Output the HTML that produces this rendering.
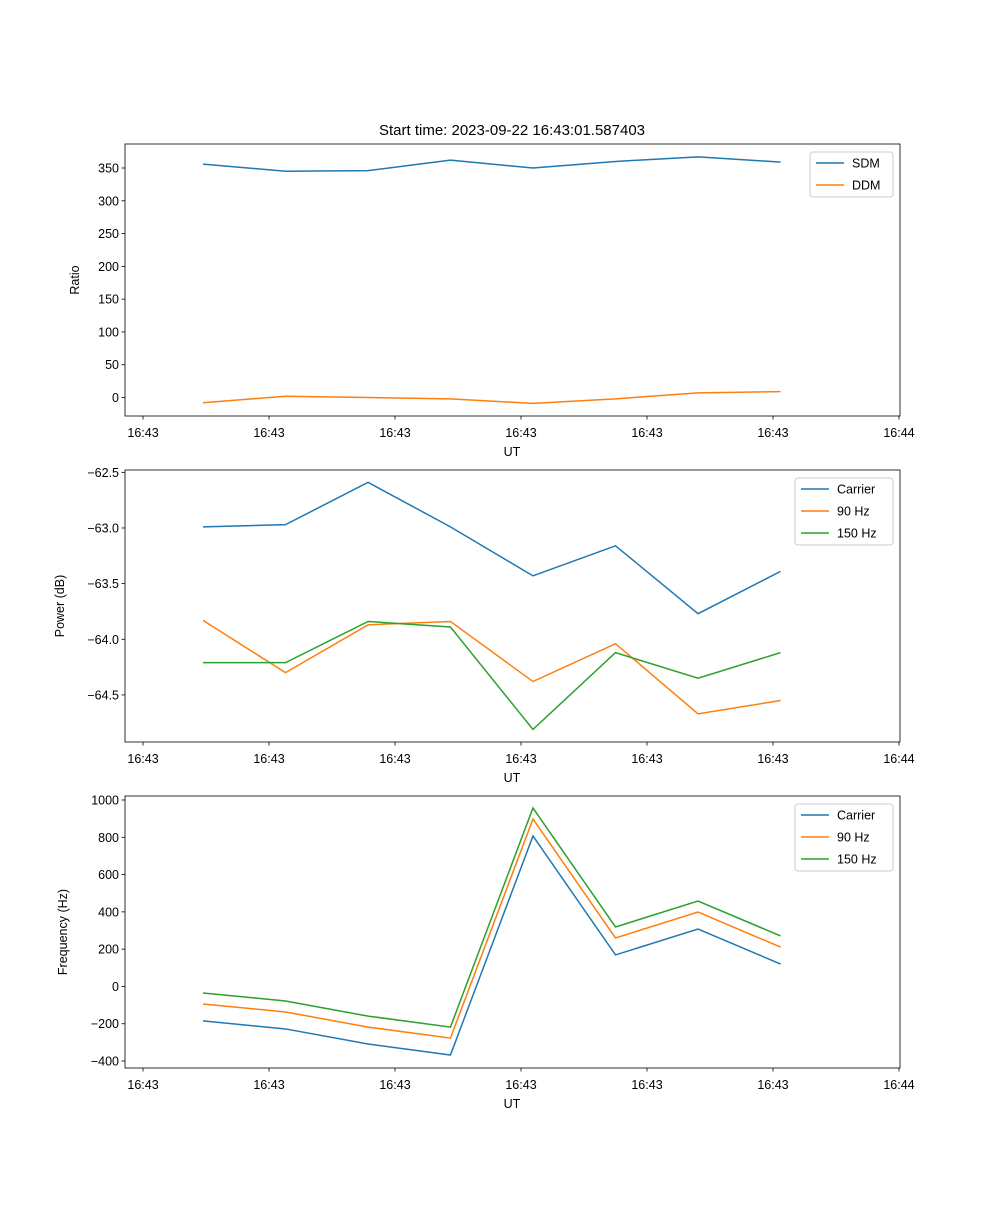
<!DOCTYPE html>
<html><head><meta charset="utf-8"><style>body{margin:0;background:#fff}svg{font-family:"Liberation Sans","DejaVu Sans",sans-serif}</style></head>
<body>
<svg id="c" width="1000" height="1200" xmlns="http://www.w3.org/2000/svg">
<text x="512" y="135" font-size="15" text-anchor="middle">Start time: 2023-09-22 16:43:01.587403</text>
</svg>
<script>
const times=[4.76,11.31,17.86,24.4,30.95,37.5,44.05,50.6];
const xTicks=[0,10,20,30,40,50,60];
const xTickLabels=["16:43","16:43","16:43","16:43","16:43","16:43","16:44"];
const sdm=[356,345,346,362,350,360,367,359];
const ddm=[-8,2,0,-2,-9,-2,7,9];
const pCarrier=[-62.99,-62.97,-62.59,-62.99,-63.43,-63.16,-63.77,-63.39];
const p90=[-63.83,-64.30,-63.87,-63.84,-64.38,-64.04,-64.67,-64.55];
const p150=[-64.21,-64.21,-63.84,-63.89,-64.81,-64.12,-64.35,-64.12];
const fCarrier=[-185,-228,-309,-368,807,169,308,120];
const f90=[-94,-137,-218,-277,898,260,399,211];
const f150=[-35,-78,-159,-218,957,319,458,271];
const ticks1=[0,50,100,150,200,250,300,350];
const ticks2=[-62.5,-63.0,-63.5,-64.0,-64.5];
const ticks3=[1000,800,600,400,200,0,-200,-400];
const C=["#1f77b4","#ff7f0e","#2ca02c"];
const svg=document.getElementById('c');const NS="http://www.w3.org/2000/svg";
function mk(t,a,p){const e=document.createElementNS(NS,t);for(const k in a)e.setAttribute(k,a[k]);(p||svg).appendChild(e);return e;}
const L=125,R=900,x0=-1.43,x1=60.08;
function X(v){return L+(v-x0)/(x1-x0)*(R-L);}
function panel(n,top,bot,y0,y1,yt,fmt,ylab,labx,series,names,leg){
  const g=mk('g',{});
  
  
  const Y=v=>bot-(v-y0)/(y1-y0)*(bot-top);
  series.forEach((s,i)=>{
    const pl=mk('polyline',{points:s.map((v,j)=>X(times[j])+','+Y(v)).join(' '),fill:'none',stroke:C[i],'stroke-width':1.5},g);
    
    
  });
  const fr=mk('rect',{x:L,y:top,width:R-L,height:bot-top,fill:'none',stroke:'#000','stroke-width':0.8},g);
  
  
  xTicks.forEach((t,i)=>{const x=X(t);mk('line',{x1:x,x2:x,y1:bot,y2:bot+3.5,stroke:'#000','stroke-width':0.8},g);
    const tx=mk('text',{x:x,y:bot+21,'font-size':12.5,'text-anchor':'middle'},g);tx.textContent=xTickLabels[i];
    
    });
  yt.forEach(t=>{const y=Y(t);mk('line',{x1:L-3.5,x2:L,y1:y,y2:y,stroke:'#000','stroke-width':0.8},g);
    const tx=mk('text',{x:L-6,y:y+4.5,'font-size':12.5,'text-anchor':'end'},g);tx.textContent=fmt(t);
    
    });
  const ux=mk('text',{x:512,y:bot+40,'font-size':12.5,'text-anchor':'middle'},g);ux.textContent='UT';
  
  
  const yl=mk('text',{x:labx,y:(top+bot)/2,'font-size':12.5,'text-anchor':'middle',transform:`rotate(-90 ${labx} ${(top+bot)/2})`},g);yl.textContent=ylab;
  
  
  const lg=mk('g',{},g);
  
  
  mk('rect',{x:leg,y:top+8,width:893-leg,height:names.length*22+1,fill:'#fff',stroke:'#ccc',rx:3},lg);
  names.forEach((nm,i)=>{const yy=top+19+i*22;
    mk('line',{x1:leg+6,x2:leg+34,y1:yy,y2:yy,stroke:C[i],'stroke-width':1.5},lg);
    const t=mk('text',{x:leg+42,y:yy+4.5,'font-size':12.5},lg);t.textContent=nm;
    
    });
}
panel(1,144,416,-28.2,386.6,ticks1,v=>String(v),'Ratio',79,[sdm,ddm],['SDM','DDM'],810);
panel(2,470,742,-64.923,-62.479,ticks2,v=>'\u2212'+Math.abs(v).toFixed(1),'Power (dB)',64,[pCarrier,p90,p150],['Carrier','90 Hz','150 Hz'],795);
panel(3,796,1068,-437.5,1021.5,ticks3,v=>v<0?'\u2212'+Math.abs(v):String(v),'Frequency (Hz)',67,[fCarrier,f90,f150],['Carrier','90 Hz','150 Hz'],795);
</script>
</body></html>
